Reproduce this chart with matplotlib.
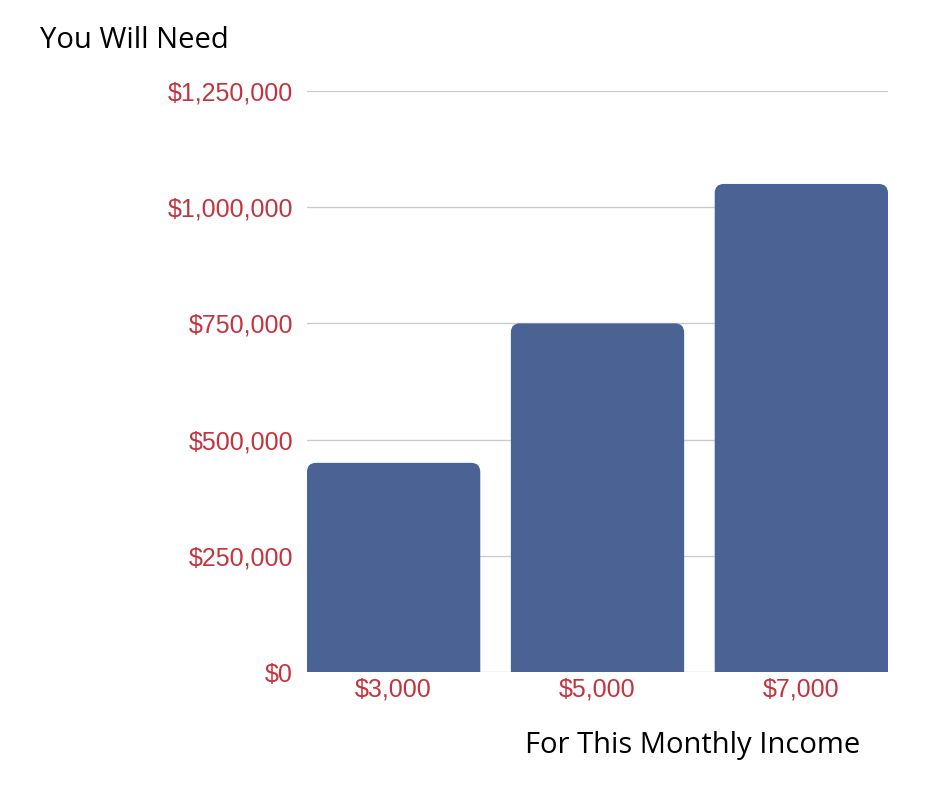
import matplotlib
matplotlib.use("Agg")
import matplotlib.pyplot as plt
from matplotlib.patches import FancyBboxPatch

categories = ["$3,000", "$5,000", "$7,000"]
values = [450000, 750000, 1050000]
yticks = [0, 250000, 500000, 750000, 1000000, 1250000]
ytick_labels = ["$0", "$250,000", "$500,000", "$750,000", "$1,000,000", "$1,250,000"]

fig = plt.figure(figsize=(9.4, 7.88), dpi=100)
ax = fig.add_axes([307/940, 116/788, 581/940, 581/788])
ax.set_xlim(-0.425, 2.425)
ax.set_ylim(0, 1250000)

w = 0.85
xpp = 2.85 / 581
ypp = 1250000 / 581
for i, v in enumerate(values):
    p = FancyBboxPatch((i - w/2, -60000), w, v + 60000,
                       boxstyle="round,pad=0,rounding_size=0.045",
                       mutation_aspect=ypp/xpp, fc="#4A6394", ec="none", zorder=3)
    ax.add_patch(p)

ax.set_yticks(yticks)
ax.set_yticklabels(ytick_labels)
ax.set_xticks(range(len(categories)))
ax.set_xticklabels(categories)
red = "#C4343F"
ax.tick_params(axis="both", length=0, labelsize=18, labelcolor=red)
ax.tick_params(axis="y", pad=10)
ax.tick_params(axis="x", pad=4)
for lab in ax.get_xticklabels() + ax.get_yticklabels():
    lab.set_family("Liberation Sans")
ax.grid(axis="y", color="#CCCCCC", lw=1, zorder=0)
for s in ax.spines.values():
    s.set_visible(False)

fig.text(40/940, 1 - 40/788, "You Will Need", fontsize=21, family="Open Sans", va="center", ha="left")
fig.text(860/940, 1 - 746/788, "For This Monthly Income", fontsize=21, family="Open Sans", va="center", ha="right")

fig.savefig("out.png", dpi=100, facecolor="white")
